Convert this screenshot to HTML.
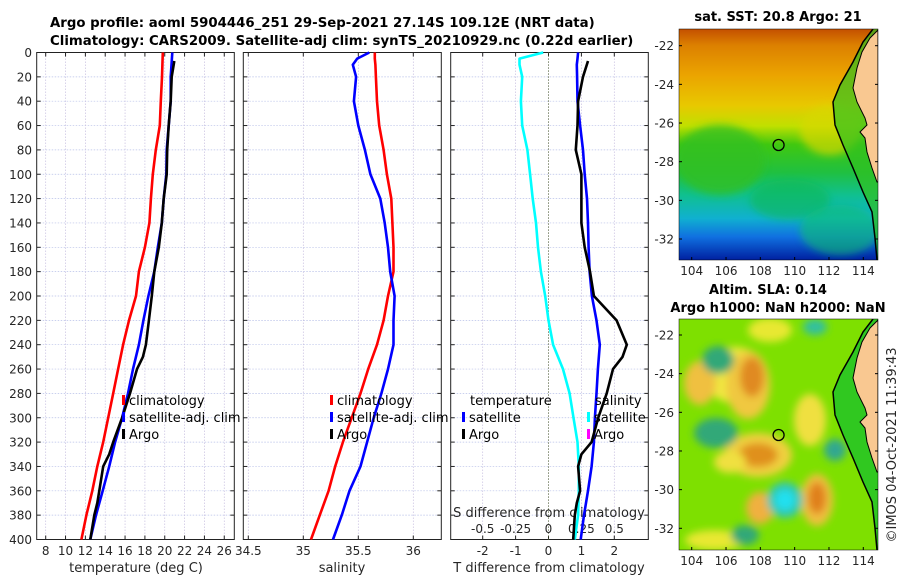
<!DOCTYPE html>
<html><head><meta charset="utf-8"><style>
html,body{margin:0;padding:0;background:#fff;width:900px;height:580px;overflow:hidden}
svg{display:block;font-family:"DejaVu Sans","Liberation Sans",sans-serif}
.tk{font-size:12px;fill:#262626}
.tt{font-size:13px;font-weight:bold;fill:#000}
.lg{font-size:13px;fill:#000}
</style></head><body>
<svg id="chart" width="900" height="580" viewBox="0 0 900 580">
<defs>
<linearGradient id="sstg" x1="0" y1="0" x2="0" y2="1">
<stop offset="0" stop-color="#c45000"/><stop offset="0.07" stop-color="#dc8000"/>
<stop offset="0.2" stop-color="#eba400"/><stop offset="0.33" stop-color="#e8c800"/>
<stop offset="0.42" stop-color="#c0e000"/><stop offset="0.5" stop-color="#40c810"/>
<stop offset="0.62" stop-color="#20c040"/><stop offset="0.72" stop-color="#10c090"/>
<stop offset="0.82" stop-color="#10b0d0"/><stop offset="0.9" stop-color="#1070e0"/>
<stop offset="1" stop-color="#0020a0"/></linearGradient>
<filter id="bl" x="-50%" y="-50%" width="200%" height="200%"><feGaussianBlur stdDeviation="4"/></filter>
<clipPath id="mc1"><rect x="679" y="29" width="199" height="231"/></clipPath>
<clipPath id="mc2"><rect x="679" y="319" width="199" height="231"/></clipPath>
</defs>
<g>
<text class="tt" x="50" y="27" text-anchor="start" style="font-size:13.3px">Argo profile: aoml 5904446_251 29-Sep-2021 27.14S 109.12E (NRT data)</text>
<text class="tt" x="50" y="45" text-anchor="start" style="font-size:13.3px">Climatology: CARS2009. Satellite-adj clim: synTS_20210929.nc (0.22d earlier)</text>
</g>
<g id="panels"></g>
<g>
<text class="tt" x="778" y="21" text-anchor="middle">sat. SST: 20.8 Argo: 21</text>
<g clip-path="url(#mc1)">
<rect x="679" y="29" width="199" height="231" fill="url(#sstg)"/>
<ellipse cx="720" cy="160" rx="45" ry="35" fill="#30c020" opacity="0.8" filter="url(#bl)"/>
<ellipse cx="830" cy="130" rx="30" ry="25" fill="#d8d800" opacity="0.7" filter="url(#bl)"/>
<ellipse cx="790" cy="200" rx="40" ry="20" fill="#10b858" opacity="0.6" filter="url(#bl)"/>
<ellipse cx="840" cy="230" rx="40" ry="25" fill="#10c070" opacity="0.6" filter="url(#bl)"/>
<path d="M873,29 L863,42 L853,62 L840,85 L833,102 L835,125 L843,145 L853,168 L863,192 L872,212 L875,238 L877,260 L878,260 L878,29 Z" fill="#30c020" opacity="0.7"/>
<path d="M878,30 L870,38 L862,52 L857,68 L853,88 L857,102 L865,118 L867,125 L860,132 L865,138 L867,152 L872,168 L877,182 L878,182 Z" fill="#f9c891" stroke="#000" stroke-width="1"/>
<path d="M873,29 L863,42 L853,62 L840,85 L833,102 L835,125 L843,145 L853,168 L863,192 L872,212 L875,238 L877,260" fill="none" stroke="#000" stroke-width="1.5"/>
</g>
<rect x="679" y="29" width="199" height="231" fill="none" stroke="#000" stroke-width="0.5"/>
<circle cx="778.6" cy="145" r="5.5" fill="none" stroke="#000" stroke-width="1.3"/>
<g id="m1ticks"></g>
</g>
<g>
<text class="tt" x="768" y="294" text-anchor="middle">Altim. SLA: 0.14</text>
<text class="tt" x="778" y="312" text-anchor="middle">Argo h1000: NaN h2000: NaN</text>
<g clip-path="url(#mc2)">
<rect x="679" y="319" width="199" height="231" fill="#7ee000"/>
<g filter="url(#bl)">
<ellipse cx="735" cy="375" rx="32" ry="28" fill="#f0e840"/>
<ellipse cx="748" cy="385" rx="22" ry="34" fill="#f0c840"/>
<ellipse cx="752" cy="377" rx="12" ry="20" fill="#e08a20"/>
<ellipse cx="700" cy="383" rx="16" ry="22" fill="#f0c040"/>
<ellipse cx="758" cy="455" rx="34" ry="22" fill="#f0d040"/>
<ellipse cx="758" cy="455" rx="20" ry="12" fill="#e0901c"/>
<ellipse cx="810" cy="420" rx="16" ry="26" fill="#f0e040"/>
<ellipse cx="817" cy="500" rx="16" ry="26" fill="#f0c040"/>
<ellipse cx="817" cy="498" rx="9" ry="16" fill="#e0801c"/>
<ellipse cx="760" cy="508" rx="14" ry="16" fill="#f0b040"/>
<ellipse cx="785" cy="500" rx="18" ry="18" fill="#30c8b0"/>
<ellipse cx="785" cy="500" rx="10" ry="10" fill="#20e0f0"/>
<ellipse cx="716" cy="433" rx="22" ry="15" fill="#30a878"/>
<ellipse cx="718" cy="360" rx="16" ry="14" fill="#30a878"/>
<ellipse cx="730" cy="462" rx="16" ry="11" fill="#f0e040"/>
<ellipse cx="770" cy="330" rx="22" ry="12" fill="#e8e830"/>
<ellipse cx="815" cy="327" rx="12" ry="8" fill="#30c0a0"/>
<ellipse cx="835" cy="450" rx="11" ry="11" fill="#30a890"/>
<ellipse cx="715" cy="540" rx="30" ry="10" fill="#e8e830"/>
<ellipse cx="745" cy="535" rx="14" ry="10" fill="#30a878"/>
</g>
<path d="M873,319 L863,332 L853,352 L840,375 L833,392 L835,415 L843,435 L853,458 L863,482 L872,502 L875,528 L877,550 L878,550 L878,319 Z" fill="#30c820"/>
<path d="M878,320 L870,328 L862,342 L857,358 L853,378 L857,392 L865,408 L867,415 L860,422 L865,428 L867,442 L872,458 L877,472 L878,472 Z" fill="#f9c891" stroke="#000" stroke-width="1"/>
<path d="M873,319 L863,332 L853,352 L840,375 L833,392 L835,415 L843,435 L853,458 L863,482 L872,502 L875,528 L877,550" fill="none" stroke="#000" stroke-width="1.5"/>
</g>
<rect x="679" y="319" width="199" height="231" fill="none" stroke="#000" stroke-width="0.5"/>
<circle cx="778.6" cy="435" r="5.5" fill="none" stroke="#000" stroke-width="1.3"/>
<g id="m2ticks"></g>
</g>
<text x="0" y="0" transform="translate(896,445) rotate(-90)" text-anchor="middle" class="tk" style="font-size:13px">©IMOS 04-Oct-2021 11:39:43</text>
</svg>
<script>
// ---- data ----
const depths = [0,20,40,60,80,100,120,140,160,180,200,220,240,260,280,300,320,340,360,380,400];
const tempClim = [19.8,19.72,19.6,19.5,19.1,18.8,18.6,18.45,18.0,17.4,17.1,16.4,15.8,15.3,14.8,14.3,13.8,13.2,12.7,12.1,11.6];
const tempSat = [20.76,20.6,20.6,20.4,20.2,20.16,19.9,19.7,19.3,18.95,18.35,17.85,17.4,16.8,16.3,15.7,15.0,14.4,13.75,13.07,12.5];
const argoDepths = [7,20,40,60,80,100,120,140,160,180,200,220,240,250,260,280,300,320,330,340,360,370,380,400];
const tempArgo = [20.96,20.7,20.6,20.4,20.25,20.2,19.9,19.7,19.4,18.95,18.7,18.4,18.1,17.8,17.2,16.5,15.7,14.8,14.4,13.8,13.4,13.2,12.9,12.5];
const salDepths = [0,5,10,20,40,60,80,100,120,140,160,180,200,220,240,260,280,300,320,340,360,380,400];
const salClim = [35.65,35.65,35.655,35.66,35.67,35.69,35.73,35.76,35.8,35.81,35.82,35.82,35.77,35.73,35.67,35.59,35.52,35.44,35.36,35.29,35.23,35.15,35.07];
const salSat = [35.6,35.49,35.45,35.48,35.46,35.5,35.56,35.61,35.7,35.74,35.77,35.79,35.83,35.82,35.82,35.77,35.71,35.64,35.58,35.52,35.42,35.35,35.27];
const tDiffSat = [0.9,0.88,0.86,0.87,0.88,0.96,1.05,1.1,1.17,1.2,1.22,1.25,1.32,1.46,1.56,1.5,1.46,1.41,1.38,1.31,1.2,1.08,0.98];
const tDiffArgo = [1.2,1.05,0.9,0.88,0.83,1.0,1.0,1.0,1.1,1.26,1.38,2.07,2.38,2.25,1.96,1.77,1.51,1.31,1.0,0.9,0.96,0.86,0.8,0.75];
const sDiffSat = [-0.04,-0.22,-0.22,-0.2,-0.21,-0.2,-0.16,-0.14,-0.12,-0.095,-0.08,-0.058,-0.025,0,0.035,0.11,0.16,0.19,0.22,0.23,0.23,0.225,0.2];
const depthTicks = [0,20,40,60,80,100,120,140,160,180,200,220,240,260,280,300,320,340,360,380,400];
const tempTicks = [8,10,12,14,16,18,20,22,24,26];
const salTicks = [34.5,35,35.5,36];
const tDiffTicks = [-2,-1,0,1,2];
const sDiffTicks = [-0.5,-0.25,0,0.25,0.5];
const sDiffLabels = ['-0.5','-0.25','0','0.25','0.5'];
const lonTicks = [104,106,108,110,112,114];
const latTicks = [-22,-24,-26,-28,-30,-32];
// ---- axes ----
const NS='http://www.w3.org/2000/svg';
const Y0=52.5, Y1=539.5;
const yD = d => Y0 + d*(Y1-Y0)/400;
const xT = t => 45.7 + (t-8)*9.92;
const xS = s => 248.3 + (s-34.5)*110;
const xTD = d => 548.5 + d*32.9;
const xSD = d => 548.5 + d*4*32.9;
const P=[[36.7,234.3],[243.3,441.3],[450.7,648.3]];
const root=document.getElementById('panels');
function mk(tag,attrs,parent){const e=document.createElementNS(NS,tag);for(const k in attrs)e.setAttribute(k,attrs[k]);(parent||root).appendChild(e);return e;}
function txt(x,y,s,cls,anchor,parent){const e=mk('text',{x:x,y:y,class:cls,'text-anchor':anchor||'middle'},parent);e.textContent=s;return e;}
function panel(i,xticks,xf,name){
  const [a,b]=P[i];
  const g=mk('g',{});
  
  
  depthTicks.forEach(d=>{mk('line',{x1:a,x2:b,y1:yD(d),y2:yD(d),stroke:'#b8c0e8','stroke-width':0.7,'stroke-dasharray':'1.5,1.5'},g);
    mk('line',{x1:a,x2:a+4,y1:yD(d),y2:yD(d),stroke:'#222'},g);mk('line',{x1:b-4,x2:b,y1:yD(d),y2:yD(d),stroke:'#222'},g);});
  xticks.forEach(t=>{const x=xf(t);mk('line',{x1:x,x2:x,y1:Y0,y2:Y1,stroke:'#c8c0e0','stroke-width':0.7,'stroke-dasharray':'1.5,1.5'},g);
    mk('line',{x1:x,x2:x,y1:Y1-4,y2:Y1,stroke:'#222'},g);mk('line',{x1:x,x2:x,y1:Y0,y2:Y0+4,stroke:'#222'},g);});
  mk('rect',{x:a,y:Y0,width:b-a,height:Y1-Y0,fill:'none',stroke:'#222','stroke-width':1},g);
  return g;
}
function line(g,xs,ds,xf,color,name){
  const pts=xs.map((v,i)=>xf(v).toFixed(1)+','+yD(ds[i]).toFixed(1)).join(' ');
  const p=mk('polyline',{points:pts,fill:'none',stroke:color,'stroke-width':2.6,'stroke-linejoin':'round'},g);
  
  
}
// panel 1
const g1=panel(0,tempTicks,xT,'temperature-panel');
depthTicks.forEach(d=>txt(32,yD(d)+4.5,String(d),'tk','end',g1));
tempTicks.forEach(t=>txt(xT(t),555,String(t),'tk','middle',g1));
txt(136,572,'temperature (deg C)','tk','middle',g1).style.fontSize='13px';
line(g1,tempClim,depths,xT,'#ff0000','temp-climatology-line');
line(g1,tempSat,depths,xT,'#0000ff','temp-satellite-line');
line(g1,tempArgo,argoDepths,xT,'#000000','temp-argo-line');
function legend(g,x,y,items){items.forEach((it,i)=>{if(it[0])mk('rect',{x:x,y:y+i*17-10,width:3,height:10,fill:it[0]},g);txt(x+7,y+i*17,it[1],'lg','start',g);});}
const l1=mk('g',{},g1);


legend(l1,122,405,[['#ff0000','climatology'],['#0000ff','satellite-adj. clim'],['#000','Argo']]);
// panel 2
const g2=panel(1,salTicks,xS,'salinity-panel');
salTicks.forEach(t=>txt(xS(t),555,String(t),'tk','middle',g2));
txt(342,572,'salinity','tk','middle',g2).style.fontSize='13px';
line(g2,salClim,salDepths,xS,'#ff0000','sal-climatology-line');
line(g2,salSat,salDepths,xS,'#0000ff','sal-satellite-line');
const l2=mk('g',{},g2);


legend(l2,330,405,[['#ff0000','climatology'],['#0000ff','satellite-adj. clim'],['#000','Argo']]);
// panel 3
const g3=panel(2,tDiffTicks,xTD,'difference-panel');
mk('line',{x1:xTD(0),x2:xTD(0),y1:Y0,y2:Y1,stroke:'#506030','stroke-width':1,'stroke-dasharray':'1,2'},g3);
tDiffTicks.forEach(t=>txt(xTD(t),555,String(t),'tk','middle',g3));
txt(549,572,'T difference from climatology','tk','middle',g3).style.fontSize='13px';
sDiffTicks.forEach((t,i)=>txt(xSD(t),533,sDiffLabels[i],'tk','middle',g3));
txt(549,517,'S difference from climatology','tk','middle',g3).style.fontSize='13px';
line(g3,sDiffSat,salDepths,xSD,'#00ffff','sal-diff-satellite-line');
line(g3,tDiffSat,salDepths,xTD,'#0000ff','temp-diff-satellite-line');
line(g3,tDiffArgo,argoDepths,xTD,'#000000','temp-diff-argo-line');
const l3=mk('g',{},g3);


txt(470,405,'temperature','lg','start',l3);
legend(l3,462,422,[['#0000ff','satellite'],['#000','Argo']]);
txt(595,405,'salinity','lg','start',l3);
legend(l3,587,422,[['#00ffff','satellite'],['#ff00ff','Argo']]);
// map ticks
function mapTicks(id,top){
  const g=document.getElementById(id);
  const lx=l=>691.7+(l-104)*17.16, ly=l=>top+(-22-l)*19.33;
  const yb=top===45.7?260:550;
  lonTicks.forEach(l=>{mk('line',{x1:lx(l),x2:lx(l),y1:yb-3,y2:yb,stroke:'#000'},g);txt(lx(l),yb+15,String(l),'tk','middle',g);});
  latTicks.forEach(l=>{mk('line',{x1:679,x2:682,y1:ly(l),y2:ly(l),stroke:'#000'},g);mk('line',{x1:875,x2:878,y1:ly(l),y2:ly(l),stroke:'#000'},g);txt(674,ly(l)+4.5,String(l),'tk','end',g);});
}
mapTicks('m1ticks',45.7);
mapTicks('m2ticks',335);
</script>
</body></html>
